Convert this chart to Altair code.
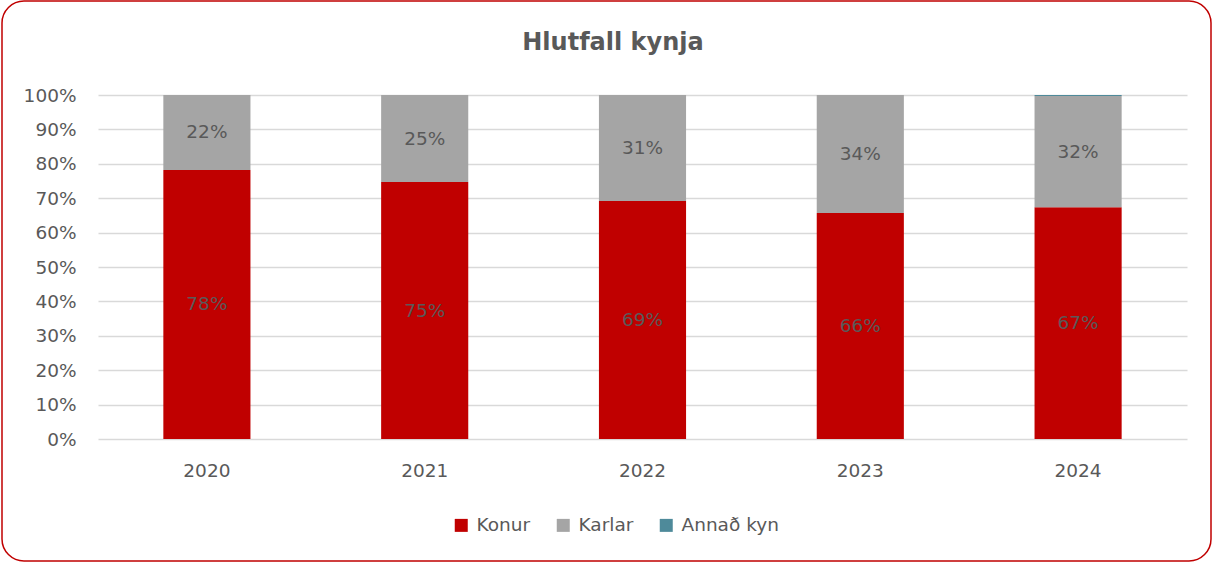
import altair as alt
import pandas as pd

years = ["2020", "2021", "2022", "2023", "2024"]
series = ["Konur", "Karlar", "Annað kyn"]
konur = [0.782, 0.747, 0.692, 0.657, 0.674]
karlar = [0.218, 0.253, 0.308, 0.343, 0.323]
annad = [0.0, 0.0, 0.0, 0.0, 0.003]
colors = ["#C00000", "#A5A5A5", "#4E8A9A"]
y_ticks = [0, 0.1, 0.2, 0.3, 0.4, 0.5, 0.6, 0.7, 0.8, 0.9, 1.0]
title_text = "Hlutfall kynja"

rows = []
for i, y in enumerate(years):
    for k, (s, vals) in enumerate(zip(series, [konur, karlar, annad])):
        rows.append({"year": y, "series": s, "value": vals[i], "order": k,
                     "show": 1 if (s != "Annað kyn" and vals[i] > 0) else 0})
df = pd.DataFrame(rows)

FONT = "DejaVu Sans"
GREY = "#595959"
FS = 18.5

x_axis = alt.Axis(labelAngle=0, domain=False, ticks=False, labelPadding=22,
                  labelFontSize=FS, labelColor=GREY, labelFont=FONT, grid=False)
y_axis = alt.Axis(values=y_ticks, format=".0%", domain=False, ticks=False,
                  labelOverlap=False, labelPadding=22, labelFontSize=FS,
                  labelColor=GREY, labelFont=FONT, gridColor="#D9D9D9", gridWidth=1.3)
x_scale = alt.Scale(paddingInner=0.6, paddingOuter=0.3)
y_scale = alt.Scale(domain=[0, 1], nice=False)

base = alt.Chart(df)

bars = base.mark_bar().encode(
    x=alt.X("year:N", title=None, sort=years, scale=x_scale, axis=x_axis),
    y=alt.Y("value:Q", title=None, stack="zero", scale=y_scale, axis=y_axis),
    color=alt.Color("series:N", sort=series,
                    scale=alt.Scale(domain=series, range=colors),
                    legend=alt.Legend(title=None, orient="none", direction="horizontal",
                                      legendX=354, legendY=421, symbolType="square",
                                      symbolSize=169, symbolStrokeWidth=0,
                                      labelFontSize=FS, labelColor=GREY, labelFont=FONT,
                                      columnPadding=23, labelOffset=6)),
    order=alt.Order("order:Q"),
)

labels = base.transform_stack(
    stack="value", groupby=["year"], as_=["v0", "v1"],
    sort=[alt.SortField("order", order="ascending")]
).transform_filter("datum.show == 1").transform_calculate(
    mid="(datum.v0 + datum.v1) / 2"
).mark_text(fontSize=FS, color=GREY, font=FONT).encode(
    x=alt.X("year:N", title=None, sort=years, scale=x_scale, axis=x_axis),
    y=alt.Y("mid:Q", title=None, scale=y_scale, axis=y_axis),
    text=alt.Text("value:Q", format=".0%"),
)

border = alt.Chart(alt.Data(values=[{"a": 1}])).mark_rect(
    fill=None, stroke="#C00000", strokeWidth=1.5, cornerRadius=22, clip=False
).encode(
    x=alt.value(-96), x2=alt.value(1113), y=alt.value(-94), y2=alt.value(466)
)

title = alt.Chart(alt.Data(values=[{"t": title_text}])).mark_text(
    fontSize=24, fontWeight="bold", color=GREY, font=FONT,
    align="center", baseline="alphabetic", clip=False
).encode(
    x=alt.value(515), y=alt.value(-45), text="t:N"
)

chart = alt.layer(border, title, bars, labels).properties(
    width=1089, height=344,
    padding={"left": 98, "top": 95, "right": 26, "bottom": 124},
    autosize="none",
    background="white",
).configure_view(stroke="transparent", strokeWidth=0)

chart.save("out.html", embed_options={"renderer": "svg", "actions": False})
